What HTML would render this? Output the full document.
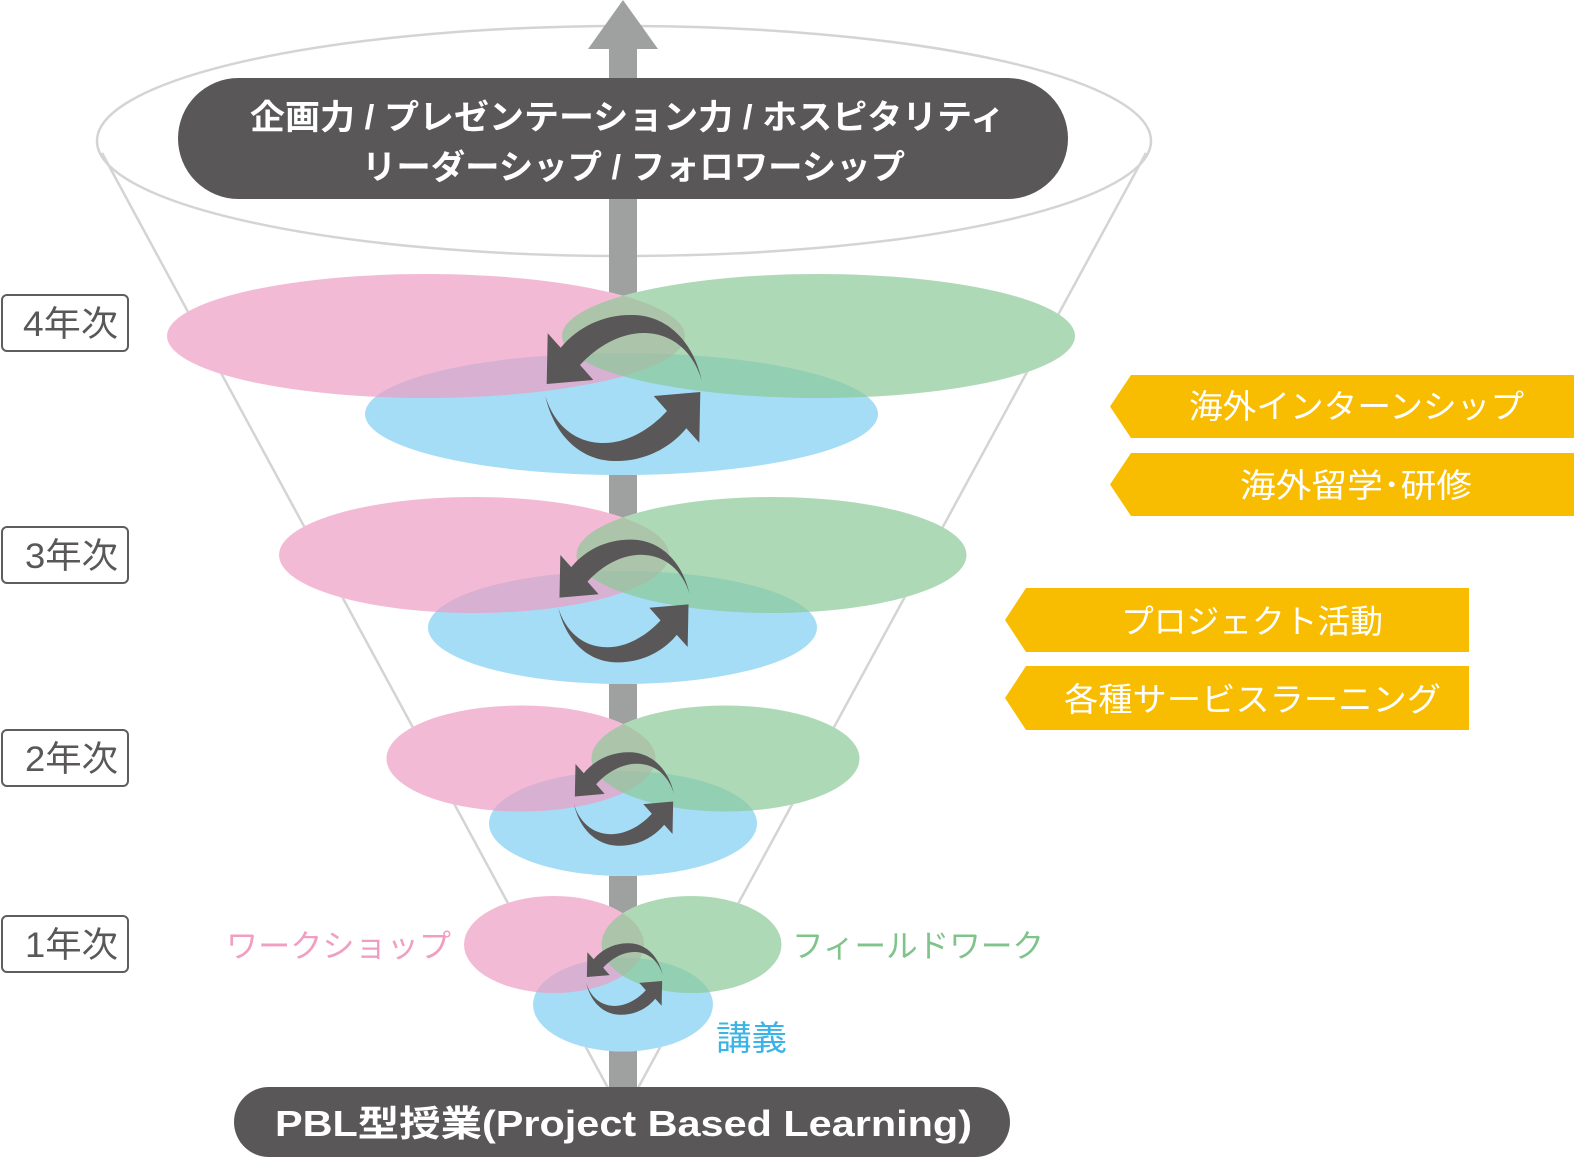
<!DOCTYPE html>
<html lang="ja">
<head>
<meta charset="utf-8">
<style>
  html, body { margin: 0; padding: 0; background: #ffffff; }
  svg { display: block; }
  .jp { font-family: "Liberation Sans", "Noto Sans CJK JP", sans-serif; }
</style>
</head>
<body>
<svg width="1574" height="1160" viewBox="0 0 1574 1160" xmlns="http://www.w3.org/2000/svg">
  <defs>
    <path id="arr" d="M -62.8,-40.3 C -45,-62 -18,-74 10,-73 C 45,-72 70,-45 78.2,-8 C 70,-35 50,-55 20,-55 C -5,-55 -28,-40 -43.5,-23 L -30.2,-8 L -76.8,-4 L -75.8,-54.7 Z" fill="#595757"/>
    <g id="cyc">
      <use href="#arr"/>
      <use href="#arr" transform="rotate(180)"/>
    </g>
  </defs>

  <!-- top ellipse and funnel lines -->
  <ellipse cx="624" cy="141" rx="527" ry="115" fill="#ffffff" stroke="#d4d4d4" stroke-width="2.5"/>
  <line x1="102" y1="153" x2="608" y2="1088" stroke="#d4d4d4" stroke-width="2.5"/>
  <line x1="1146" y1="153" x2="638" y2="1088" stroke="#d4d4d4" stroke-width="2.5"/>

  <!-- vertical arrow -->
  <rect x="609" y="47" width="28" height="1045" fill="#9fa0a0"/>
  <polygon points="588,49 658,49 623,0" fill="#9fa0a0"/>

  <!-- top pill -->
  <rect x="178" y="78" width="890" height="121" rx="60.5" ry="60.5" fill="#595757"/>
  <text class="jp" x="250" y="129" font-size="34" font-weight="700" fill="#ffffff" textLength="755" lengthAdjust="spacingAndGlyphs">企画力 / プレゼンテーション力 / ホスピタリティ</text>
  <text class="jp" x="362" y="179" font-size="34" font-weight="700" fill="#ffffff" textLength="543" lengthAdjust="spacingAndGlyphs">リーダーシップ / フォロワーシップ</text>

  <!-- Level 4 -->
  <g>
    <ellipse cx="426" cy="336" rx="259" ry="62" fill="#fff"/>
    <ellipse cx="818.5" cy="336" rx="256.5" ry="62" fill="#fff"/>
    <ellipse cx="621.5" cy="414" rx="256.5" ry="61" fill="#fff"/>
    <ellipse cx="621.5" cy="414" rx="256.5" ry="61" fill="#a6ddf6"/>
    <ellipse cx="426" cy="336" rx="259" ry="62" fill="rgba(238,156,195,0.7)"/>
    <ellipse cx="818.5" cy="336" rx="256.5" ry="62" fill="rgba(139,201,151,0.7)"/>
    <use href="#cyc" transform="translate(623.5,388)"/>
  </g>

  <!-- Level 3 -->
  <g>
    <ellipse cx="474" cy="555" rx="195" ry="58" fill="#fff"/>
    <ellipse cx="771.5" cy="555" rx="195" ry="58" fill="#fff"/>
    <ellipse cx="622.5" cy="627.5" rx="194.5" ry="56.5" fill="#fff"/>
    <ellipse cx="622.5" cy="627.5" rx="194.5" ry="56.5" fill="#a6ddf6"/>
    <ellipse cx="474" cy="555" rx="195" ry="58" fill="rgba(238,156,195,0.7)"/>
    <ellipse cx="771.5" cy="555" rx="195" ry="58" fill="rgba(139,201,151,0.7)"/>
    <use href="#cyc" transform="translate(624,601) scale(0.84)"/>
  </g>

  <!-- Level 2 -->
  <g>
    <ellipse cx="521" cy="758.5" rx="134.5" ry="53" fill="#fff"/>
    <ellipse cx="725.5" cy="758.5" rx="134" ry="53" fill="#fff"/>
    <ellipse cx="623" cy="823.5" rx="134" ry="52.5" fill="#fff"/>
    <ellipse cx="623" cy="823.5" rx="134" ry="52.5" fill="#a6ddf6"/>
    <ellipse cx="521" cy="758.5" rx="134.5" ry="53" fill="rgba(238,156,195,0.7)"/>
    <ellipse cx="725.5" cy="758.5" rx="134" ry="53" fill="rgba(139,201,151,0.7)"/>
    <use href="#cyc" transform="translate(624,799) scale(0.64)"/>
  </g>

  <!-- Level 1 -->
  <g>
    <ellipse cx="554" cy="944.5" rx="90" ry="48.5" fill="#fff"/>
    <ellipse cx="691.5" cy="944.5" rx="90" ry="48.5" fill="#fff"/>
    <ellipse cx="623" cy="1004.5" rx="90" ry="47" fill="#fff"/>
    <ellipse cx="623" cy="1004.5" rx="90" ry="47" fill="#a6ddf6"/>
    <ellipse cx="554" cy="944.5" rx="90" ry="48.5" fill="rgba(238,156,195,0.7)"/>
    <ellipse cx="691.5" cy="944.5" rx="90" ry="48.5" fill="rgba(139,201,151,0.7)"/>
    <use href="#cyc" transform="translate(624.5,979) scale(0.49)"/>
  </g>

  <!-- level 1 labels -->
  <text class="jp" x="226" y="957" font-size="32" fill="#f09fc3" textLength="225" lengthAdjust="spacingAndGlyphs">ワークショップ</text>
  <text class="jp" x="792" y="957" font-size="32" fill="#80c48b" textLength="252" lengthAdjust="spacingAndGlyphs">フィールドワーク</text>
  <text class="jp" x="716" y="1050" font-size="34" fill="#3ab4e6" textLength="71" lengthAdjust="spacingAndGlyphs">講義</text>

  <!-- bottom pill -->
  <rect x="234" y="1087" width="776" height="70" rx="35" ry="35" fill="#595757"/>
  <text class="jp" x="275" y="1136" font-size="36" font-weight="700" fill="#ffffff" textLength="697" lengthAdjust="spacingAndGlyphs">PBL型授業(Project Based Learning)</text>

  <!-- year labels -->
  <g fill="#ffffff" stroke="#5f5d5d" stroke-width="2">
    <rect x="2" y="295" width="126" height="56" rx="5" ry="5"/>
    <rect x="2" y="527" width="126" height="56" rx="5" ry="5"/>
    <rect x="2" y="730" width="126" height="56" rx="5" ry="5"/>
    <rect x="2" y="916" width="126" height="56" rx="5" ry="5"/>
  </g>
  <g class="jp" font-size="35" fill="#595757">
    <text x="23" y="336" textLength="95" lengthAdjust="spacingAndGlyphs">4年次</text>
    <text x="25" y="568" textLength="93" lengthAdjust="spacingAndGlyphs">3年次</text>
    <text x="25" y="771" textLength="93" lengthAdjust="spacingAndGlyphs">2年次</text>
    <text x="25" y="957" textLength="93" lengthAdjust="spacingAndGlyphs">1年次</text>
  </g>

  <!-- yellow banners -->
  <g fill="#f8bd00">
    <polygon points="1110,406.5 1131,375 1574,375 1574,438 1131,438"/>
    <polygon points="1110,484.5 1131,453 1574,453 1574,516 1131,516"/>
    <polygon points="1005,620 1026,588 1469,588 1469,652 1026,652"/>
    <polygon points="1005,698 1026,666 1469,666 1469,730 1026,730"/>
  </g>
  <g class="jp" font-size="33" fill="#ffffff">
    <text x="1189" y="418" textLength="335" lengthAdjust="spacingAndGlyphs">海外インターンシップ</text>
    <text x="1240" y="497" textLength="232" lengthAdjust="spacingAndGlyphs">海外留学･研修</text>
    <text x="1121" y="633" textLength="262" lengthAdjust="spacingAndGlyphs">プロジェクト活動</text>
    <text x="1064" y="711" textLength="377" lengthAdjust="spacingAndGlyphs">各種サービスラーニング</text>
  </g>
</svg>
</body>
</html>
